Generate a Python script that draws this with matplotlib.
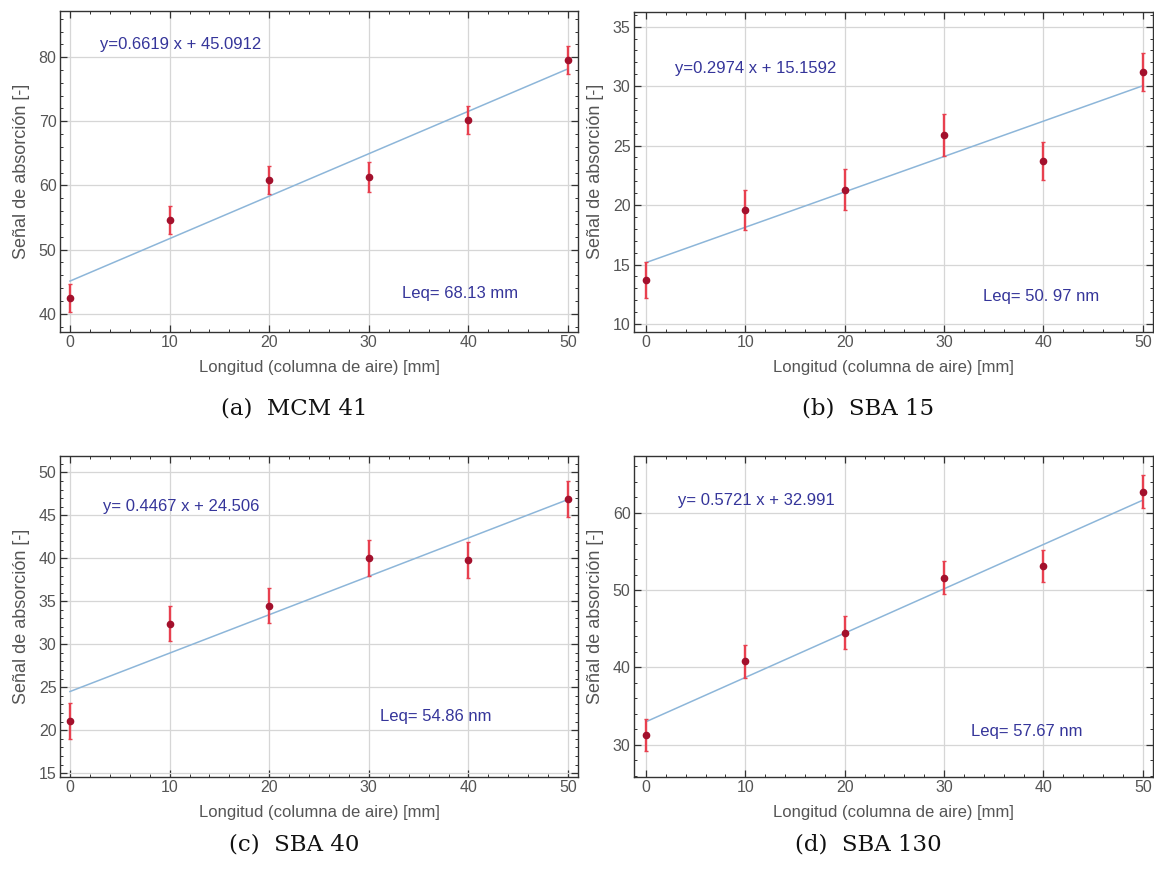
import matplotlib
matplotlib.use("Agg")
import matplotlib.pyplot as plt
import numpy as np
from matplotlib.ticker import MultipleLocator

# Air-column length [mm]
longitud = [0, 10, 20, 30, 40, 50]

# Absorption signal and uncertainty for each material
mcm41 = [42.5, 54.6, 60.9, 61.3, 70.2, 79.6]
mcm41_err = [2.2, 2.2, 2.2, 2.3, 2.2, 2.2]
sba15 = [13.7, 19.6, 21.3, 25.9, 23.7, 31.2]
sba15_err = [1.5, 1.7, 1.7, 1.75, 1.6, 1.6]
sba40 = [21.1, 32.4, 34.5, 40.0, 39.8, 46.9]
sba40_err = [2.1, 2.0, 2.0, 2.1, 2.1, 2.1]
sba130 = [31.3, 40.8, 44.5, 51.6, 53.1, 62.7]
sba130_err = [2.1, 2.1, 2.1, 2.1, 2.1, 2.1]

# Linear fits (slope, intercept)
pendientes = [0.6619, 0.2974, 0.4467, 0.5721]
ordenadas = [45.0912, 15.1592, 24.506, 32.991]
ecuaciones = ["y=0.6619 x + 45.0912", "y=0.2974 x + 15.1592",
              "y= 0.4467 x + 24.506", "y= 0.5721 x + 32.991"]
leq_textos = ["Leq= 68.13 mm", "Leq= 50. 97 nm", "Leq= 54.86 nm", "Leq= 57.67 nm"]
subtitulos = ["(a)  MCM 41", "(b)  SBA 15", "(c)  SBA 40", "(d)  SBA 130"]

series = [(mcm41, mcm41_err), (sba15, sba15_err), (sba40, sba40_err), (sba130, sba130_err)]

W, H = 1154, 874
fig = plt.figure(figsize=(W / 100, H / 100), dpi=100)

# panel geometry in pixels: left, right, top, bottom
cajas = [(60, 578, 11, 331.7), (634, 1152.7, 11.7, 331.7),
         (60, 578, 456, 776.7), (634, 1152.7, 456, 776.7)]
subtitulo_y = [408, 408, 845, 845]
xlims = [(-1.0, 51.0), (-1.2, 51.0), (-1.0, 51.0), (-1.2, 51.0)]
ylims = [(37.2, 87.2), (9.35, 36.26), (14.6, 51.9), (25.9, 67.3)]
ymayor = [10, 5, 5, 10]
ymenor = [2, 1, 1, 2]
pos_ec = [(11.1, 82.0), (11.0, 31.5), (11.2, 46.0), (11.1, 61.5)]
pos_leq = [(39.2, 43.1), (39.8, 12.3), (36.7, 21.6), (38.3, 31.7)]

gris = "#555555"
azul_txt = "#35359a"
sans = ["Liberation Sans", "DejaVu Sans"]

for i, (l, r, t, b) in enumerate(cajas):
    ax = fig.add_axes([l / W, 1 - b / H, (r - l) / W, (b - t) / H])
    y, e = series[i]
    ax.set_xlim(*xlims[i])
    ax.set_ylim(*ylims[i])
    ax.grid(True, which="major", color="#d6d6d6", lw=0.9)
    ax.set_axisbelow(True)

    xf = np.array([longitud[0], longitud[-1]], dtype=float)
    ax.plot(xf, pendientes[i] * xf + ordenadas[i], color="#8db6d9", lw=1.1, zorder=2)
    ax.errorbar(longitud, y, yerr=e, fmt="o", ms=4.5, color="#a3102c",
                ecolor="#e8404f", elinewidth=1.7, capsize=1.5, capthick=1.0, zorder=3)

    ax.xaxis.set_major_locator(MultipleLocator(10))
    ax.xaxis.set_minor_locator(MultipleLocator(2))
    ax.yaxis.set_major_locator(MultipleLocator(ymayor[i]))
    ax.yaxis.set_minor_locator(MultipleLocator(ymenor[i]))
    ax.tick_params(which="both", direction="in", top=True, right=True,
                   colors="#333333", labelcolor=gris, labelsize=11.5, pad=2.5)
    ax.tick_params(which="major", length=5, width=0.9)
    ax.tick_params(which="minor", length=2.5, width=0.7)
    for lab in ax.get_xticklabels() + ax.get_yticklabels():
        lab.set_family(sans)
    for s in ax.spines.values():
        s.set_color("#333333")
        s.set_linewidth(1.0)

    ax.set_xlabel("Longitud (columna de aire) [mm]", fontsize=12, color=gris,
                  family=sans, labelpad=7)
    ax.set_ylabel("Señal de absorción [-]", fontsize=13, color=gris,
                  family=sans, labelpad=6)

    ax.text(*pos_ec[i], ecuaciones[i], color=azul_txt, fontsize=12, family=sans,
            ha="center", va="center")
    ax.text(*pos_leq[i], leq_textos[i], color=azul_txt, fontsize=12, family=sans,
            ha="center", va="center")

    cx = (l + r) / 2 - 25
    cy = subtitulo_y[i]
    fig.text(cx / W, 1 - cy / H, subtitulos[i], fontsize=16.5, family="DejaVu Serif",
             ha="center", va="center", color="#111111")

fig.savefig("out.png", dpi=100)
